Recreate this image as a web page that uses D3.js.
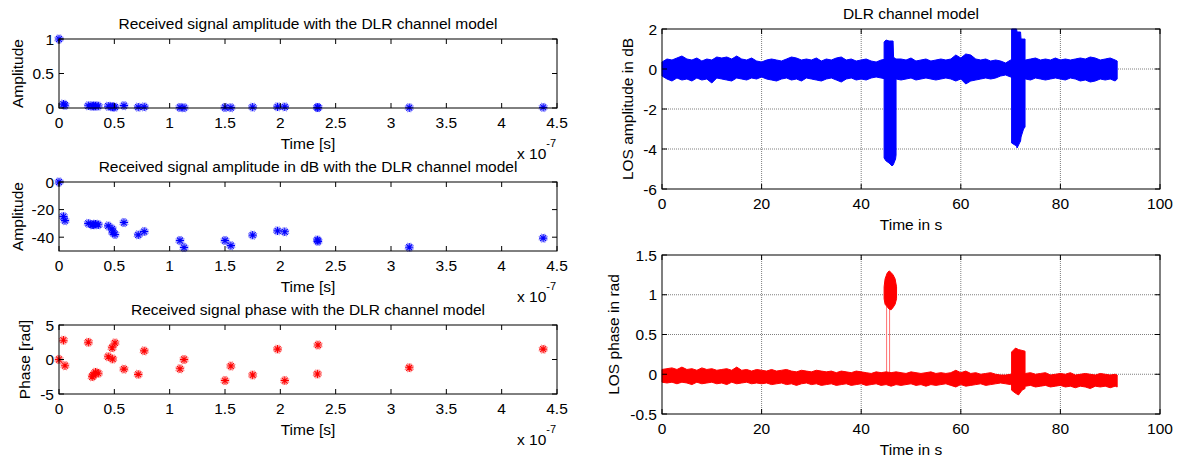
<!DOCTYPE html>
<html><head><meta charset="utf-8">
<script src="https://cdn.jsdelivr.net/npm/d3@7"></script>
<style>
body{margin:0;background:#fff}
text{font-family:"Liberation Sans",Arial,Helvetica,sans-serif;fill:#000}
</style>
</head><body>
<svg id="c" width="1182" height="462"></svg>
<script>
// ---------- Left panels: discrete channel taps (delay in units of 1e-7 s) ----------
const tapDelay = [0, 0.04, 0.054, 0.265, 0.30, 0.31, 0.33, 0.355, 0.445, 0.48, 0.485, 0.506, 0.587,
  0.716, 0.77, 1.093, 1.13, 1.5, 1.553, 1.75, 1.975, 2.04, 2.335, 2.34, 3.165, 4.375];
const tapAmp = [1, 0.056, 0.040, 0.032, 0.028, 0.028, 0.030, 0.028, 0.026, 0.020, 0.015, 0.013, 0.034,
  0.012, 0.016, 0.0076, 0.0042, 0.0076, 0.005, 0.012, 0.017, 0.016, 0.008, 0.007, 0.0043, 0.0092];
const tapDb = [0, -25, -28, -30, -31, -31, -30.5, -31, -31.8, -34, -36.4, -38, -29.4,
  -38.3, -35.9, -42.4, -47.5, -42.4, -46.1, -38.5, -35.4, -36.1, -42, -43, -47.3, -40.7];
const tapPhase = [0, 2.8, -0.9, 2.5, -2.5, -2.25, -1.85, -2.0, 0.4, 1.7, 0.07, 2.4, -1.4,
  -2.15, 1.25, -1.35, 0.0, -3.05, -0.95, -2.25, 1.5, -3.05, -2.1, 2.1, -1.2, 1.5];
const delayTicks = [0, 0.5, 1, 1.5, 2, 2.5, 3, 3.5, 4, 4.5];
const ampTicks = [0, 0.5, 1];
const dbTicks = [-40, -20, 0];
const phaseTicks = [-5, 0, 5];

// ---------- Right panels: LOS time series (envelope of the noisy trace) ----------
const losTime = [0,1,2,3,4,5,6,7,8,9,10,11,12,13,14,15,16,17,18,19,20,21,22,23,24,25,26,27,28,29,
  30,31,32,33,34,35,36,37,38,39,40,41,42,43,44,45,46,47,48,49,50,51,52,53,54,55,56,57,58,59,
  60,61,62,63,64,65,66,67,68,69,70,71,72,73,74,75,76,77,78,79,80,81,82,83,84,85,86,87,88,89,90,91,91.4];
const losAmpUpper = [0.35,0.5,0.45,0.55,0.65,0.5,0.45,0.55,0.4,0.5,
  0.45,0.6,0.55,0.6,0.5,0.65,0.5,0.45,0.55,0.4,
  0.35,0.45,0.5,0.45,0.4,0.5,0.6,0.55,0.45,0.5,
  0.45,0.55,0.4,0.5,0.45,0.55,0.6,0.45,0.5,0.4,
  0.45,0.5,0.4,0.35,0.45,0.5,0.5,0.5,0.5,0.45,
  0.55,0.4,0.45,0.5,0.4,0.45,0.5,0.45,0.5,0.7,
  0.55,0.75,0.7,0.5,0.45,0.5,0.4,0.45,0.4,0.3,
  0.45,0.5,0.5,0.45,0.5,0.55,0.45,0.5,0.45,0.55,
  0.45,0.5,0.45,0.5,0.55,0.5,0.6,0.55,0.45,0.5,
  0.55,0.45,0.4];
const losAmpLower = [-0.35,-0.5,-0.6,-0.45,-0.55,-0.5,-0.6,-0.45,-0.55,-0.5,
  -0.7,-0.45,-0.5,-0.55,-0.6,-0.45,-0.5,-0.55,-0.45,-0.5,
  -0.4,-0.5,-0.55,-0.6,-0.5,-0.45,-0.55,-0.5,-0.6,-0.45,
  -0.5,-0.55,-0.6,-0.5,-0.45,-0.55,-0.65,-0.5,-0.45,-0.55,
  -0.5,-0.55,-0.45,-0.4,-0.45,-0.5,-0.5,-0.5,-0.55,-0.5,
  -0.45,-0.55,-0.5,-0.45,-0.5,-0.55,-0.5,-0.45,-0.5,-0.6,
  -0.5,-0.75,-0.6,-0.55,-0.5,-0.45,-0.5,-0.45,-0.35,-0.3,
  -0.4,-0.5,-0.5,-0.5,-0.55,-0.45,-0.5,-0.55,-0.5,-0.45,
  -0.5,-0.55,-0.45,-0.5,-0.6,-0.55,-0.65,-0.6,-0.5,-0.55,
  -0.5,-0.6,-0.5];
// shadowing / multipath events in the amplitude
const ampEv1Time = [44.6, 45.0, 45.6, 46.2, 46.4, 46.5, 46.9, 47.0];
const ampEv1Upper = [1.35, 1.45, 1.4, 1.4, 1.4, 0.6, 0.5, 0.5];
const ampEv1Lower = [-4.45, -4.6, -4.7, -4.85, -4.8, -4.75, -4.5, -4.3];
const ampEv2Time = [70.2, 71.2, 71.3, 72.0, 72.1, 72.6, 72.9];
const ampEv2Upper = [2.0, 2.0, 1.85, 1.85, 1.5, 1.5, 1.5];
const ampEv2Lower = [-3.7, -3.85, -3.95, -3.6, -3.4, -3.0, -2.9];

const losPhUpper = [0.06,0.07,0.08,0.06,0.09,0.06,0.07,0.05,0.08,0.06,
  0.07,0.05,0.06,0.07,0.05,0.09,0.05,0.06,0.04,0.06,
  0.05,0.04,0.06,0.04,0.05,0.06,0.04,0.03,0.05,0.04,
  0.03,0.05,0.04,0.03,0.04,0.02,0.04,0.03,0.02,0.04,
  0.03,0.02,0.01,0.03,0.02,0.03,0.02,0.03,0.02,0.01,
  0.03,0.02,0.01,0.02,0.03,0.01,0.02,0.01,0.02,0.05,
  0.02,0.04,0.01,0.02,0.0,0.01,0.02,0.0,-0.01,-0.01,
  0.0,0.01,0.01,0.01,0.02,0.0,0.01,0.02,-0.01,0.0,
  0.01,0.0,0.02,-0.01,0.0,0.01,0.0,-0.01,0.01,0.0,
  -0.01,0.0,-0.01];
const losPhLower = [-0.1,-0.11,-0.1,-0.12,-0.1,-0.11,-0.13,-0.1,-0.12,-0.11,
  -0.1,-0.12,-0.11,-0.13,-0.1,-0.12,-0.11,-0.1,-0.12,-0.11,
  -0.12,-0.11,-0.13,-0.12,-0.11,-0.13,-0.12,-0.14,-0.12,-0.11,
  -0.13,-0.12,-0.14,-0.13,-0.12,-0.14,-0.13,-0.12,-0.14,-0.13,
  -0.12,-0.14,-0.13,-0.12,-0.14,-0.13,-0.15,-0.13,-0.14,-0.13,
  -0.12,-0.14,-0.13,-0.15,-0.13,-0.14,-0.13,-0.12,-0.14,-0.16,
  -0.13,-0.15,-0.14,-0.13,-0.12,-0.14,-0.13,-0.12,-0.11,-0.12,
  -0.13,-0.15,-0.14,-0.15,-0.14,-0.16,-0.15,-0.14,-0.16,-0.15,
  -0.14,-0.16,-0.15,-0.17,-0.15,-0.16,-0.18,-0.15,-0.16,-0.15,
  -0.17,-0.15,-0.16];
const phEv1Time = [44.6, 44.8, 45.2, 45.6, 46.0, 46.4, 46.8, 47.1];
const phEv1Upper = [1.1, 1.2, 1.27, 1.3, 1.28, 1.25, 1.2, 1.1];
const phEv1Lower = [0.95, 0.88, 0.85, 0.82, 0.81, 0.84, 0.88, 0.95];
const phEv2Time = [70.2, 71.0, 71.6, 72.3, 72.9];
const phEv2Upper = [0.28, 0.33, 0.31, 0.3, 0.29];
const phEv2Lower = [-0.2, -0.24, -0.26, -0.2, -0.18];
const phJumpTime = [45.1, 45.7];
const phJumpLow = [-0.02, -0.03];
const phJumpHigh = [0.86, 0.82];

const timeTicks = [0, 20, 40, 60, 80, 100];
const losAmpTicks = [-6, -4, -2, 0, 2];
const losPhTicks = [-0.5, 0, 0.5, 1, 1.5];

// ---------- drawing ----------
const svg = d3.select("#c");
const FS = 15.5;
const BLUE = "#0000ff", RED = "#ff0000";

function frame(o) {
  const g = svg.append("g");
  const x = d3.scaleLinear().domain(o.xd).range([o.L, o.R]);
  const y = d3.scaleLinear().domain(o.yd).range([o.B, o.T]);
  if (o.grid) {
    g.selectAll(".gx").data(o.xt.filter(v => v !== o.xd[0] && v !== o.xd[1])).enter().append("line")
      .attr("x1", d => x(d)).attr("x2", d => x(d)).attr("y1", o.T).attr("y2", o.B)
      .attr("stroke", "#7f7f7f").attr("stroke-width", 1).attr("stroke-dasharray", "1,1");
    g.selectAll(".gy").data(o.yt.filter(v => v !== o.yd[0] && v !== o.yd[1])).enter().append("line")
      .attr("y1", d => y(d)).attr("y2", d => y(d)).attr("x1", o.L).attr("x2", o.R)
      .attr("stroke", "#7f7f7f").attr("stroke-width", 1).attr("stroke-dasharray", "1,1");
  }
  return {g, x, y, o};
}
function finish(p) {
  const {g, x, y, o} = p;
  const tk = 5;
  const ax = svg.append("g");
  o.xt.forEach(v => {
    ax.append("line").attr("x1", x(v)).attr("x2", x(v)).attr("y1", o.B).attr("y2", o.B - tk).attr("stroke", "#000");
    ax.append("line").attr("x1", x(v)).attr("x2", x(v)).attr("y1", o.T).attr("y2", o.T + tk).attr("stroke", "#000");
    ax.append("text").attr("x", x(v)).attr("y", o.B + 20).attr("text-anchor", "middle")
      .attr("font-size", FS).text(String(v));
  });
  o.yt.forEach(v => {
    ax.append("line").attr("y1", y(v)).attr("y2", y(v)).attr("x1", o.L).attr("x2", o.L + tk).attr("stroke", "#000");
    ax.append("line").attr("y1", y(v)).attr("y2", y(v)).attr("x1", o.R).attr("x2", o.R - tk).attr("stroke", "#000");
    ax.append("text").attr("x", o.L - 5).attr("y", y(v) + 5.5).attr("text-anchor", "end")
      .attr("font-size", FS).text(String(v));
  });
  ax.append("rect").attr("x", o.L).attr("y", o.T).attr("width", o.R - o.L).attr("height", o.B - o.T)
    .attr("fill", "none").attr("stroke", "#000").attr("stroke-width", 1);
  if (o.title) ax.append("text").attr("x", (o.L + o.R) / 2).attr("y", o.T - 10.5).attr("text-anchor", "middle")
    .attr("font-size", FS).text(o.title);
  ax.append("text").attr("x", (o.L + o.R) / 2).attr("y", o.B + 41).attr("text-anchor", "middle")
    .attr("font-size", FS).text(o.xlabel);
  ax.append("text").attr("transform", `translate(${o.ylx},${(o.T + o.B) / 2}) rotate(-90)`)
    .attr("text-anchor", "middle").attr("font-size", FS).text(o.ylabel);
  if (o.exp) {
    const t = ax.append("text").attr("x", o.R - 40).attr("y", o.B + 51).attr("font-size", FS);
    t.append("tspan").text("x 10");
    t.append("tspan").attr("dy", -12).attr("font-size", 11).text(o.exp);
  }
}
function asterisks(p, xs, ys, color) {
  const r = 4.2, a = r * 0.72;
  const star = `M${-r},0L${r},0M0,${-r}L0,${r}M${-a},${-a}L${a},${a}M${-a},${a}L${a},${-a}`;
  const pts = xs.map((v, i) => [p.x(v), p.y(ys[i])]);
  p.g.selectAll(null).data(pts).enter().append("path")
    .attr("transform", d => `translate(${d[0]},${d[1]}) rotate(22.5) scale(1.15)`)
    .attr("d", star).attr("fill", "none").attr("stroke", color).attr("stroke-opacity", 0.45).attr("stroke-width", 1);
  p.g.selectAll(null).data(pts).enter().append("path")
    .attr("transform", d => `translate(${d[0]},${d[1]})`)
    .attr("d", star).attr("fill", "none").attr("stroke", color).attr("stroke-width", 1.1);
}
function band(p, ts, up, lo, color) {
  const data = ts.map((t, i) => ({t, u: up[i], l: lo[i]}));
  const area = d3.area().x(d => p.x(d.t)).y0(d => p.y(d.l)).y1(d => p.y(d.u));
  p.g.append("path").datum(data).attr("d", area).attr("fill", color)
    .attr("stroke", color).attr("stroke-width", 1).attr("stroke-linejoin", "round");
}

const LL = 59, LR = 557;
const p1 = frame({xd: [0, 4.5], yd: [0, 1], L: LL, R: LR, T: 39, B: 108, xt: delayTicks, yt: ampTicks,
  title: "Received signal amplitude with the DLR channel model", xlabel: "Time [s]", ylabel: "Amplitude", ylx: 22.5, exp: "-7"});
asterisks(p1, tapDelay, tapAmp, BLUE);
finish(p1);
const p2 = frame({xd: [0, 4.5], yd: [-50, 0], L: LL, R: LR, T: 182, B: 251, xt: delayTicks, yt: dbTicks,
  title: "Received signal amplitude in dB with the DLR channel model", xlabel: "Time [s]", ylabel: "Amplitude", ylx: 22.5, exp: "-7"});
asterisks(p2, tapDelay, tapDb, BLUE);
finish(p2);
const p3 = frame({xd: [0, 4.5], yd: [-5, 5], L: LL, R: LR, T: 325, B: 394, xt: delayTicks, yt: phaseTicks,
  title: "Received signal phase with the DLR channel model", xlabel: "Time [s]", ylabel: "Phase [rad]", ylx: 30, exp: "-7"});
asterisks(p3, tapDelay, tapPhase, RED);
finish(p3);

const RL = 662, RR = 1160;
const p4 = frame({xd: [0, 100], yd: [-6, 2], L: RL, R: RR, T: 29, B: 189, xt: timeTicks, yt: losAmpTicks, grid: true,
  title: "DLR channel model", xlabel: "Time in s", ylabel: "LOS amplitude in dB", ylx: 633});
band(p4, losTime, losAmpUpper, losAmpLower, BLUE);
band(p4, ampEv1Time, ampEv1Upper, ampEv1Lower, BLUE);
band(p4, ampEv2Time, ampEv2Upper, ampEv2Lower, BLUE);
finish(p4);
const p5 = frame({xd: [0, 100], yd: [-0.5, 1.5], L: RL, R: RR, T: 255, B: 414, xt: timeTicks, yt: losPhTicks, grid: true,
  title: "", xlabel: "Time in s", ylabel: "LOS phase in rad", ylx: 619});
phJumpTime.forEach((t, i) => {
  p5.g.append("line").attr("x1", p5.x(t)).attr("x2", p5.x(t)).attr("y1", p5.y(phJumpLow[i])).attr("y2", p5.y(phJumpHigh[i]))
    .attr("stroke", "#ff7070").attr("stroke-width", 1);
});
band(p5, losTime, losPhUpper, losPhLower, RED);
band(p5, phEv1Time, phEv1Upper, phEv1Lower, RED);
band(p5, phEv2Time, phEv2Upper, phEv2Lower, RED);
finish(p5);
</script>
</body></html>
